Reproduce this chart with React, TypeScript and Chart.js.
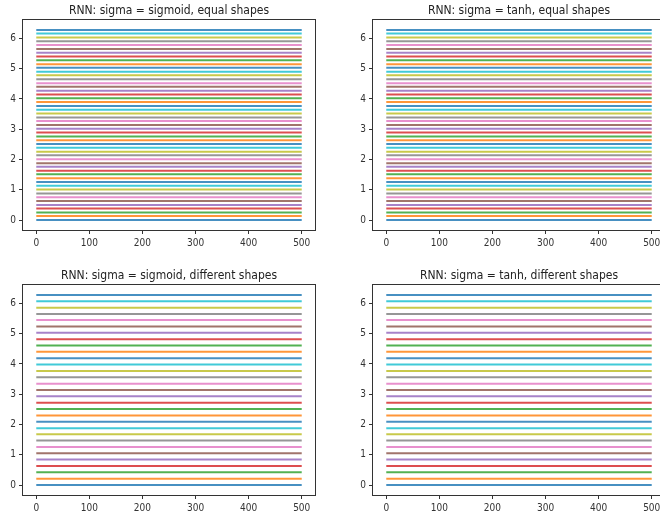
import React, { useEffect, useRef } from "react";
import { Chart, registerables } from "chart.js";

Chart.register(...registerables);

// tab10 colour cycle
const seriesColors = [
  "#1f77b4", "#ff7f0e", "#2ca02c", "#d62728", "#9467bd",
  "#8c564b", "#e377c2", "#7f7f7f", "#bcbd22", "#17becf",
];

// x extent of every line (time steps)
const timeSteps = [0, 500];

// constant levels of each line
const equalShapeLevels = [
  0, 0.13, 0.25, 0.38, 0.5, 0.63, 0.75, 0.88, 1.01, 1.13,
  1.26, 1.38, 1.51, 1.63, 1.76, 1.88, 2.01, 2.14, 2.26, 2.39,
  2.51, 2.64, 2.76, 2.89, 3.02, 3.14, 3.27, 3.39, 3.52, 3.64,
  3.77, 3.9, 4.02, 4.15, 4.27, 4.4, 4.52, 4.65, 4.78, 4.9,
  5.03, 5.15, 5.28, 5.4, 5.53, 5.65, 5.78, 5.91, 6.03, 6.16,
  6.28,
];

const differentShapeLevels = [
  0, 0.21, 0.42, 0.63, 0.84, 1.05, 1.26, 1.47, 1.68, 1.88,
  2.09, 2.3, 2.51, 2.72, 2.93, 3.14, 3.35, 3.56, 3.77, 3.98,
  4.19, 4.4, 4.61, 4.82, 5.03, 5.24, 5.45, 5.65, 5.86, 6.07,
  6.28,
];

const xTickValues = [0, 100, 200, 300, 400, 500];
const yTickValues = [0, 1, 2, 3, 4, 5, 6];

const panelTitles = [
  "RNN: sigma = sigmoid, equal shapes",
  "RNN: sigma = tanh, equal shapes",
  "RNN: sigma = sigmoid, different shapes",
  "RNN: sigma = tanh, different shapes",
];

const FONT = "'DejaVu Sans Condensed', 'Liberation Sans', sans-serif";
const INK = "#333333";

function withAlpha(hex: string, a: number) {
  const r = parseInt(hex.slice(1, 3), 16);
  const g = parseInt(hex.slice(3, 5), 16);
  const b = parseInt(hex.slice(5, 7), 16);
  return `rgba(${r},${g},${b},${a})`;
}

const framePlugin = {
  id: "frame",
  afterDraw(chart: any) {
    const { ctx, chartArea: a } = chart;
    ctx.save();
    ctx.strokeStyle = INK;
    ctx.lineWidth = 1;
    ctx.strokeRect(
      Math.round(a.left) - 0.5,
      Math.round(a.top) - 0.5,
      Math.round(a.right - a.left) + 1,
      Math.round(a.bottom - a.top) + 1
    );
    ctx.restore();
  },
};

type PanelProps = {
  title: string;
  levels: number[];
  left: number;
  top: number;
  width: number;
  height: number;
  axisWidth: number;
  titlePadTop: number;
  xAxisHeight: number;
  padRight: number;
};

function Panel(p: PanelProps) {
  const ref = useRef<HTMLCanvasElement | null>(null);
  useEffect(() => {
    if (!ref.current) return;
    const chart = new Chart(ref.current, {
      type: "line",
      data: {
        datasets: p.levels.map((y, i) => ({
          data: timeSteps.map((x) => ({ x, y })),
          borderColor: withAlpha(seriesColors[i % seriesColors.length], 0.82),
          backgroundColor: seriesColors[i % seriesColors.length],
          borderWidth: 2,
          pointRadius: 0,
          fill: false,
        })),
      },
      options: {
        animation: false,
        responsive: false,
        maintainAspectRatio: false,
        layout: { padding: { left: 0, right: p.padRight, top: 0, bottom: 0 } },
        plugins: {
          legend: { display: false },
          tooltip: { enabled: false },
          title: {
            display: true,
            text: p.title,
            fullSize: false,
            color: "#222222",
            font: { family: FONT, size: 12, weight: "normal" },
            padding: { top: p.titlePadTop, bottom: 1.6 },
          },
        },
        scales: {
          x: {
            type: "linear",
            min: -25,
            max: 525,
            afterBuildTicks: (s: any) => {
              s.ticks = xTickValues.map((v) => ({ value: v }));
            },
            afterFit: (s: any) => {
              s.height = p.xAxisHeight;
            },
            grid: { drawOnChartArea: false, drawTicks: true, tickLength: 4, color: INK },
            border: { display: false },
            ticks: {
              font: { family: FONT, size: 10 },
              color: INK,
              padding: 3,
              maxRotation: 0,
              autoSkip: false,
            },
          },
          y: {
            type: "linear",
            min: -0.33,
            max: 6.61,
            afterBuildTicks: (s: any) => {
              s.ticks = yTickValues.map((v) => ({ value: v }));
            },
            afterFit: (s: any) => {
              s.width = p.axisWidth;
            },
            grid: { drawOnChartArea: false, drawTicks: true, tickLength: 4, color: INK },
            border: { display: false },
            ticks: {
              font: { family: FONT, size: 10 },
              color: INK,
              padding: 3,
              autoSkip: false,
            },
          },
        },
      },
      plugins: [framePlugin],
    } as any);
    return () => chart.destroy();
  }, []);
  return (
    <canvas
      ref={ref}
      width={p.width}
      height={p.height}
      style={{ position: "absolute", left: p.left, top: p.top, width: p.width, height: p.height }}
    />
  );
}

export default function App() {
  return (
    <div
      style={{
        position: "absolute",
        left: 0,
        top: 0,
        width: 660,
        height: 516,
        overflow: "hidden",
        background: "#ffffff",
      }}
    >
      <Panel title={panelTitles[0]} levels={equalShapeLevels} left={0} top={0} width={330} height={258}
        axisWidth={23} titlePadTop={4} xAxisHeight={28} padRight={15} />
      <Panel title={panelTitles[1]} levels={equalShapeLevels} left={330} top={0} width={340} height={258}
        axisWidth={43} titlePadTop={4} xAxisHeight={28} padRight={5} />
      <Panel title={panelTitles[2]} levels={differentShapeLevels} left={0} top={258} width={330} height={258}
        axisWidth={23} titlePadTop={11} xAxisHeight={21} padRight={15} />
      <Panel title={panelTitles[3]} levels={differentShapeLevels} left={330} top={258} width={340} height={258}
        axisWidth={43} titlePadTop={11} xAxisHeight={21} padRight={5} />
    </div>
  );
}
